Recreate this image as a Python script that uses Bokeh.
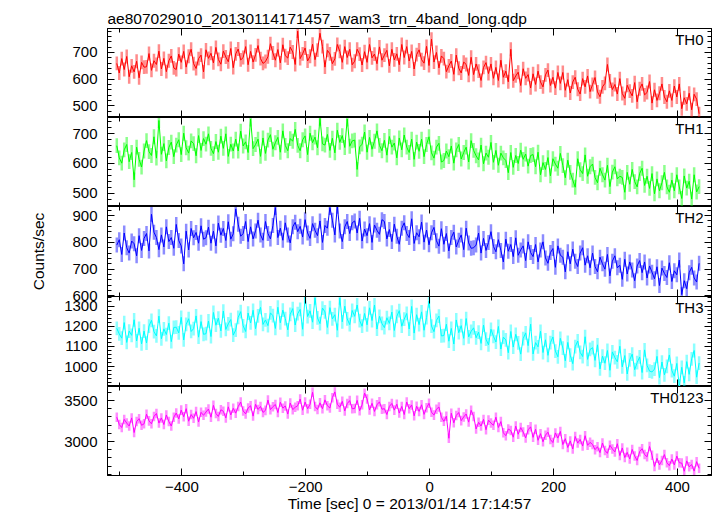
import numpy as np
from bokeh.plotting import figure
from bokeh.layouts import column
from bokeh.models import (Range1d, LinearAxis, SingleIntervalTicker, Label,
                          ColumnDataSource, CustomLabelingPolicy)
from bokeh.embed import file_html
from bokeh.resources import INLINE

title_text = "ae807029010_20130114171457_wam3_trn_4band_long.qdp"
x_label = "Time [sec] 0 = 2013/01/14 17:14:57"
y_label = "Counts/sec"
band_names = ["TH0", "TH1", "TH2", "TH3", "TH0123"]
band_colors = ["#ff0000", "#00ff00", "#0000ff", "#00ffff", "#ff00ff"]

# time bins (sec)
t_start, t_step, n_bins = -505, 4, 236
time_sec = t_start + t_step * np.arange(n_bins)

th0 = [659, 623, 677, 636, 685, 609, 650, 627, 667, 605, 663, 645,
       646, 696, 633, 669, 655, 705, 638, 678, 628, 669, 687, 642,
       636, 694, 663, 704, 645, 686, 712, 658, 640, 677, 690, 627,
       710, 678, 697, 661, 719, 674, 656, 705, 683, 665, 715, 643,
       695, 713, 672, 681, 722, 654, 704, 664, 691, 726, 677, 659,
       666, 684, 733, 698, 671, 711, 661, 729, 688, 679, 720, 702,
       655, 780, 677, 695, 717, 668, 686, 731, 673, 709, 772, 722,
       645, 708, 695, 658, 676, 730, 704, 663, 722, 681, 712, 654,
       667, 712, 694, 653, 703, 663, 730, 680, 694, 658, 721, 671,
       690, 708, 650, 712, 672, 695, 654, 730, 681, 722, 668, 704,
       638, 692, 710, 673, 660, 723, 651, 750, 664, 700, 642, 687,
       677, 628, 650, 668, 618, 690, 641, 623, 664, 655, 614, 682,
       617, 657, 630, 595, 644, 662, 621, 657, 603, 644, 595, 671,
       607, 630, 590, 712, 594, 612, 626, 576, 639, 603, 617, 567,
       620, 580, 630, 589, 571, 616, 634, 576, 607, 566, 625, 584,
       625, 558, 598, 548, 589, 607, 562, 544, 602, 571, 612, 553,
       580, 606, 552, 534, 571, 584, 655, 593, 561, 580, 544, 602,
       546, 528, 577, 555, 537, 587, 515, 564, 582, 541, 550, 591,
       510, 560, 520, 547, 582, 533, 515, 556, 520, 574, 533, 582,
       489, 530, 507, 547, 485, 543, 525, 470]

th1 = [660, 619, 601, 646, 664, 606, 637, 545, 655, 614, 588, 642,
       677, 640, 627, 690, 618, 745, 631, 667, 609, 654, 672, 623,
       662, 680, 630, 702, 653, 635, 676, 667, 626, 694, 644, 684,
       665, 700, 651, 633, 674, 638, 692, 651, 700, 624, 665, 642,
       682, 642, 709, 659, 673, 637, 750, 650, 664, 682, 624, 686,
       634, 679, 697, 648, 670, 688, 638, 710, 661, 643, 684, 675,
       715, 661, 643, 680, 693, 630, 702, 670, 689, 653, 752, 666,
       662, 698, 644, 685, 636, 712, 671, 694, 654, 750, 658, 676,
       679, 580, 656, 665, 706, 638, 688, 648, 675, 710, 661, 643,
       678, 628, 691, 655, 669, 619, 686, 646, 696, 655, 637, 682,
       614, 672, 641, 682, 623, 664, 690, 636, 618, 655, 668, 605,
       610, 642, 623, 659, 601, 646, 664, 615, 637, 655, 605, 677,
       644, 626, 612, 662, 599, 635, 621, 671, 604, 644, 594, 635,
       619, 610, 569, 637, 587, 627, 600, 645, 614, 632, 591, 627,
       630, 589, 638, 562, 603, 580, 620, 558, 616, 598, 584, 634,
       593, 552, 611, 570, 544, 520, 616, 579, 566, 629, 557, 589,
       598, 553, 535, 584, 562, 544, 594, 522, 571, 589, 548, 557,
       553, 503, 570, 530, 580, 539, 521, 566, 584, 526, 557, 516,
       566, 498, 548, 508, 535, 570, 521, 503, 544, 508, 562, 521,
       482, 558, 517, 540, 480, 562, 504, 522]

th2 = [790, 810, 755, 835, 780, 760, 805, 795, 750, 825, 770, 815,
       833, 768, 905, 838, 818, 773, 828, 783, 858, 803, 818, 778,
       867, 807, 787, 720, 842, 772, 852, 817, 837, 797, 862, 812,
       817, 857, 797, 842, 787, 872, 827, 852, 807, 877, 812, 832,
       925, 868, 823, 833, 878, 803, 858, 813, 843, 883, 828, 808,
       878, 833, 813, 863, 930, 818, 853, 808, 873, 828, 798, 858,
       875, 840, 860, 820, 885, 835, 815, 870, 845, 825, 880, 800,
       863, 853, 930, 883, 828, 935, 843, 803, 858, 878, 833, 873,
       880, 835, 890, 805, 850, 825, 870, 800, 865, 845, 830, 885,
       878, 813, 848, 803, 868, 823, 793, 853, 873, 833, 818, 888,
       796, 836, 821, 876, 801, 846, 791, 836, 856, 806, 786, 851,
       793, 833, 768, 818, 838, 783, 808, 828, 773, 853, 798, 778,
       780, 790, 835, 760, 815, 770, 800, 840, 785, 765, 810, 770,
       727, 812, 767, 792, 747, 817, 752, 772, 787, 732, 802, 762,
       747, 792, 727, 772, 802, 742, 722, 762, 777, 707, 787, 752,
       745, 690, 765, 720, 775, 730, 710, 760, 780, 715, 750, 705,
       760, 710, 690, 745, 720, 700, 755, 675, 730, 750, 705, 715,
       662, 737, 682, 727, 697, 657, 712, 732, 687, 727, 667, 712,
       689, 664, 709, 639, 704, 684, 669, 724, 654, 694, 679, 734,
       605, 657, 627, 687, 707, 667, 652, 722]

th3 = [1190, 1162, 1141, 1218, 1120, 1176, 1155, 1232, 1127, 1190, 1113, 1176,
       1117, 1201, 1229, 1173, 1152, 1250, 1138, 1187, 1159, 1215, 1124, 1194,
       1195, 1167, 1244, 1132, 1209, 1237, 1174, 1188, 1251, 1146, 1223, 1160,
       1163, 1226, 1149, 1268, 1205, 1240, 1177, 1275, 1184, 1212, 1233, 1156,
       1181, 1244, 1272, 1202, 1174, 1265, 1216, 1279, 1188, 1251, 1293, 1209,
       1231, 1203, 1266, 1252, 1189, 1294, 1217, 1280, 1238, 1182, 1259, 1287,
       1206, 1262, 1283, 1185, 1345, 1248, 1276, 1220, 1340, 1241, 1213, 1290,
       1271, 1194, 1292, 1236, 1257, 1180, 1340, 1222, 1299, 1236, 1208, 1278,
       1249, 1305, 1228, 1200, 1263, 1207, 1291, 1228, 1305, 1186, 1249, 1214,
       1193, 1242, 1214, 1270, 1179, 1249, 1277, 1200, 1235, 1263, 1186, 1298,
       1166, 1257, 1208, 1271, 1180, 1243, 1325, 1201, 1173, 1229, 1250, 1152,
       1154, 1210, 1126, 1189, 1112, 1231, 1168, 1203, 1140, 1238, 1147, 1175,
       1192, 1143, 1171, 1115, 1206, 1136, 1108, 1185, 1150, 1122, 1199, 1087,
       1146, 1132, 1069, 1174, 1097, 1160, 1118, 1062, 1139, 1167, 1104, 1210,
       1063, 1119, 1098, 1175, 1070, 1133, 1056, 1119, 1147, 1077, 1049, 1140,
       1092, 1029, 1120, 1057, 1015, 1099, 1127, 1071, 1050, 1148, 1036, 1085,
       1094, 1031, 1108, 989, 1052, 1017, 1080, 982, 1073, 1045, 1024, 1101,
       999, 1055, 964, 1034, 1062, 985, 1020, 1048, 971, 1083, 1006, 978,
       974, 988, 1051, 946, 1023, 960, 1002, 1058, 981, 953, 1016, 905,
       997, 920, 1025, 962, 1039, 1080, 948, 1018]

th0123 = [3297, 3207, 3171, 3270, 3225, 3189, 3288, 3110, 3243, 3279, 3198, 3216,
          3333, 3252, 3216, 3306, 3342, 3225, 3288, 3207, 3324, 3243, 3189, 3297,
          3347, 3275, 3383, 3302, 3401, 3248, 3329, 3284, 3365, 3239, 3356, 3320,
          3360, 3396, 3297, 3441, 3342, 3306, 3387, 3369, 3288, 3423, 3324, 3405,
          3346, 3427, 3481, 3373, 3337, 3409, 3436, 3310, 3454, 3391, 3427, 3355,
          3380, 3506, 3389, 3425, 3452, 3353, 3479, 3407, 3434, 3335, 3470, 3389,
          3418, 3436, 3517, 3382, 3481, 3400, 3454, 3600, 3427, 3391, 3472, 3400,
          3508, 3436, 3409, 3535, 3605, 3454, 3418, 3490, 3373, 3463, 3499, 3400,
          3403, 3502, 3376, 3448, 3590, 3520, 3385, 3466, 3367, 3448, 3484, 3394,
          3401, 3329, 3428, 3464, 3383, 3455, 3347, 3428, 3329, 3482, 3401, 3446,
          3313, 3430, 3367, 3448, 3331, 3412, 3466, 3358, 3322, 3394, 3421, 3295,
          3246, 3309, 3040, 3345, 3228, 3318, 3354, 3255, 3300, 3336, 3237, 3381,
          3306, 3153, 3234, 3189, 3270, 3144, 3261, 3225, 3198, 3297, 3171, 3243,
          3107, 3071, 3152, 3134, 3053, 3188, 3089, 3170, 3116, 3044, 3143, 3179,
          3051, 3150, 3015, 3096, 2997, 3078, 3114, 3024, 2988, 3105, 3042, 3123,
          2963, 3035, 2927, 3008, 2909, 3062, 2981, 3026, 2945, 3071, 2954, 2990,
          2964, 2901, 2937, 2865, 2982, 2892, 2856, 2955, 2910, 2874, 2973, 2829,
          2922, 2805, 2868, 2787, 2904, 2823, 2769, 2877, 2913, 2841, 2814, 2940,
          2832, 2697, 2796, 2715, 2769, 2841, 2742, 2706, 2787, 2715, 2823, 2742,
          2737, 2638, 2764, 2692, 2719, 2640, 2755, 2674]

band_values = [th0, th1, th2, th3, th0123]
band_errors = [26, 25, 28, 34, 58]
y_limits = [(456, 790), (455, 755), (598, 934), (902, 1347), (2586, 3671)]
y_major = [100, 100, 100, 100, 500]
x_limits = (-520, 455)
x_major = 200

FONT = "Liberation Sans"
FS_TICK = "15px"
FS_TEXT = "15.5px"
frame_w = 604
frame_hs = [89, 89, 90, 90, 89]
OVERLAP = 10  # room below panel TH2 so its lowest tick label is not cut


def style_axis(ax, show_labels):
    ax.axis_line_color = "black"
    ax.axis_line_width = 1
    ax.major_tick_line_color = "black"
    ax.minor_tick_line_color = "black"
    ax.major_tick_in = 7
    ax.major_tick_out = 0
    ax.minor_tick_in = 4
    ax.minor_tick_out = 0
    ax.major_label_text_font = FONT
    ax.major_label_text_color = "black"
    ax.axis_label_text_font = FONT
    ax.axis_label_text_font_size = FS_TEXT
    ax.axis_label_text_font_style = "normal"
    ax.axis_label_text_color = "black"
    if show_labels:
        ax.major_label_text_font_size = FS_TICK
    else:
        ax.major_label_text_font_size = "0px"
        ax.major_label_standoff = 0
        ax.major_label_policy = CustomLabelingPolicy(code="return []")


figs = []
for k in range(5):
    lo, hi = y_limits[k]
    p = figure(frame_width=frame_w, frame_height=frame_hs[k],
               x_range=Range1d(*x_limits), y_range=Range1d(lo, hi),
               x_axis_location=None, y_axis_location=None,
               output_backend="svg", toolbar_location=None,
               min_border_left=107, min_border_right=6,
               min_border_top=28 if k == 0 else 0,
               min_border_bottom=41 if k == 4 else (OVERLAP if k == 2 else 0))
    p.outline_line_color = "black"
    p.background_fill_color = "white"
    p.border_fill_color = "white"
    if k == 3:
        p.background_fill_alpha = 0
        p.border_fill_alpha = 0
        p.margin = (-OVERLAP, 0, 0, 0)
    p.grid.visible = False

    yt = SingleIntervalTicker(interval=y_major[k], num_minor_ticks=5)
    xt = SingleIntervalTicker(interval=x_major, num_minor_ticks=2)

    left = LinearAxis(ticker=yt)
    style_axis(left, True)
    left.major_label_standoff = 10
    if k == 2:
        left.axis_label = y_label
        left.axis_label_standoff = 22
    right = LinearAxis(ticker=yt)
    style_axis(right, False)
    top = LinearAxis(ticker=xt)
    style_axis(top, False)
    bottom = LinearAxis(ticker=xt)
    if k == 4:
        style_axis(bottom, True)
        bottom.major_label_standoff = 6
        bottom.axis_label = x_label
        bottom.axis_label_standoff = 0
    else:
        style_axis(bottom, False)
    p.add_layout(left, "left")
    p.add_layout(right, "right")
    p.add_layout(top, "above")
    p.add_layout(bottom, "below")

    if k == 0:
        p.title.text = title_text
        p.title.align = "left"
        p.title.text_font = FONT
        p.title.text_font_size = FS_TEXT
        p.title.text_font_style = "normal"
        p.title.text_color = "black"
        p.title.standoff = 4
        p.title.offset = 0

    vals = np.array(band_values[k], dtype=float)
    err = band_errors[k]
    src = ColumnDataSource(dict(t=time_sec, v=vals, lo=vals - err, hi=vals + err))
    p.segment(x0="t", y0="lo", x1="t", y1="hi", source=src,
              line_color=band_colors[k], line_alpha=0.45, line_width=2.5)
    p.line(x="t", y="v", source=src, line_color=band_colors[k], line_width=1)

    px_x = (x_limits[1] - x_limits[0]) / frame_w
    px_y = (hi - lo) / frame_hs[k]
    p.add_layout(Label(x=x_limits[1] - 8 * px_x, y=hi - 2.5 * px_y,
                       text=band_names[k], text_align="right", text_baseline="top",
                       text_font=FONT, text_font_size=FS_TICK, text_color="black"))
    figs.append(p)

layout = column(*figs, spacing=0)
open("out.html", "w").write(file_html(layout, INLINE))
